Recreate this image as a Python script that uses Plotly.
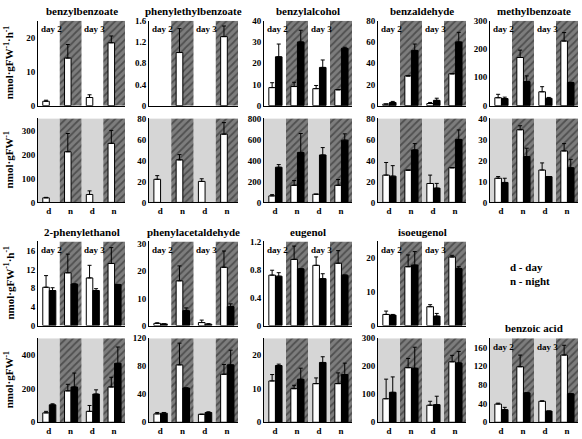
import plotly.graph_objects as go

# ---------------- data ----------------
band_labels = ["d", "n", "d", "n"]
day_tags = ["day 2", "day 3"]

# Row 1: emission rates (nmol·gFW-1·h-1)
benzylbenzoate_rate_w = [1.3, 14.0, 2.4, 18.5]
benzylbenzoate_rate_w_err = [0.3, 4.0, 0.8, 2.0]
phenylethylbenzoate_rate_w = [None, 1.0, None, 1.3]
phenylethylbenzoate_rate_w_err = [0, 0.45, 0, 0.2]
benzylalcohol_rate_w = [8.5, 9.0, 8.0, 7.5]
benzylalcohol_rate_w_err = [2.3, 2.0, 1.5, 0]
benzylalcohol_rate_b = [23, 30, 18, 27]
benzylalcohol_rate_b_err = [6, 5.5, 3.5, 0.5]
benzaldehyde_rate_w = [1.5, 28, 2, 30]
benzaldehyde_rate_w_err = [0, 0, 1, 0]
benzaldehyde_rate_b = [3, 52, 5, 60]
benzaldehyde_rate_b_err = [1, 6, 2, 9]
methylbenzoate_rate_w = [28, 170, 49, 228]
methylbenzoate_rate_w_err = [12, 26, 18, 30]
methylbenzoate_rate_b = [25, 85, 26, 82]
methylbenzoate_rate_b_err = [5, 20, 3, 0]

# Row 2: internal pools (nmol·gFW-1)
benzylbenzoate_pool_w = [19, 211, 33, 246]
benzylbenzoate_pool_w_err = [2, 76, 15, 54]
phenylethylbenzoate_pool_w = [22, 40.5, 20, 65]
phenylethylbenzoate_pool_w_err = [3.5, 5, 2.5, 11]
benzylalcohol_pool_w = [62, 163, 78, 163]
benzylalcohol_pool_w_err = [12, 45, 0, 55]
benzylalcohol_pool_b = [335, 476, 452, 593]
benzylalcohol_pool_b_err = [25, 180, 70, 60]
benzaldehyde_pool_w = [26, 30.7, 18, 33]
benzaldehyde_pool_w_err = [12, 0, 8, 0]
benzaldehyde_pool_b = [25, 50, 13.6, 60]
benzaldehyde_pool_b_err = [10, 6, 4.5, 9]
methylbenzoate_pool_w = [11.5, 34.6, 15.4, 24.5]
methylbenzoate_pool_w_err = [0.8, 1.9, 3.4, 3.5]
methylbenzoate_pool_b = [9.5, 21.8, 12.3, 16.5]
methylbenzoate_pool_b_err = [2, 4, 0, 4]

# Row 3: emission rates
phenylethanol_rate_w = [8.2, 11.3, 10.2, 13.3]
phenylethanol_rate_w_err = [2.5, 4.0, 2.7, 3.4]
phenylethanol_rate_b = [7.5, 8.9, 7.5, 8.8]
phenylethanol_rate_b_err = [0.6, 0, 0.4, 0]
phenylacetaldehyde_rate_w = [0.8, 16.5, 1.1, 21.5]
phenylacetaldehyde_rate_w_err = [0.2, 5.5, 0.9, 6.0]
phenylacetaldehyde_rate_b = [0.6, 5.5, 0.5, 7.0]
phenylacetaldehyde_rate_b_err = [0, 1, 0.2, 1]
eugenol_rate_w = [0.72, 0.945, 0.86, 0.89]
eugenol_rate_w_err = [0.07, 0.19, 0.12, 0.18]
eugenol_rate_b = [0.705, 0.81, 0.67, 0.72]
eugenol_rate_b_err = [0.05, 0, 0.07, 0]
isoeugenol_rate_w = [3.3, 17.5, 5.6, 20.4]
isoeugenol_rate_w_err = [1.0, 3.5, 0.6, 0.5]
isoeugenol_rate_b = [3.1, 18, 2.8, 17]
isoeugenol_rate_b_err = [0.2, 4, 0.8, 0.5]

# Row 4: internal pools
phenylethanol_pool_w = [56, 187, 65, 210]
phenylethanol_pool_w_err = [9, 39, 35, 58]
phenylethanol_pool_b = [104, 210, 168, 351]
phenylethanol_pool_b_err = [6, 83, 25, 97]
phenylacetaldehyde_pool_w = [12, 82, 11.4, 68.6]
phenylacetaldehyde_pool_w_err = [2, 31, 0, 14]
phenylacetaldehyde_pool_b = [13, 49, 14, 82]
phenylacetaldehyde_pool_b_err = [1, 0, 1, 21]
eugenol_pool_w = [12.3, 10, 11.5, 11.5]
eugenol_pool_w_err = [1.9, 1, 1.7, 3.2]
eugenol_pool_b = [16.9, 12.8, 17.8, 14.2]
eugenol_pool_b_err = [0.4, 3.3, 1.7, 3.4]
isoeugenol_pool_w = [84, 195, 61, 216]
isoeugenol_pool_w_err = [70, 33, 14, 23]
isoeugenol_pool_b = [107, 193, 63, 212]
isoeugenol_pool_b_err = [55, 75, 30, 41]
benzoicacid_pool_w = [39, 119, 45, 144]
benzoicacid_pool_w_err = [2, 25, 1, 21]
benzoicacid_pool_b = [27, 63, 24, 61]
benzoicacid_pool_b_err = [5, 0, 0, 0]

# ---------------- layout helpers ----------------
FONT = "Liberation Serif"
W, H = 582, 439
col_px = [(38, 125), (149, 238), (264, 352), (378, 466), (490, 578)]
row_px = [(16, 103), (116, 202), (242, 328), (341, 427)]

panels = [
    dict(r=0, c=0, title="benzylbenzoate", w=benzylbenzoate_rate_w, we=benzylbenzoate_rate_w_err, b=None, be=None, ymax=25, dtick=10),
    dict(r=0, c=1, title="phenylethylbenzoate", w=phenylethylbenzoate_rate_w, we=phenylethylbenzoate_rate_w_err, b=None, be=None, ymax=1.6, dtick=0.4),
    dict(r=0, c=2, title="benzylalcohol", w=benzylalcohol_rate_w, we=benzylalcohol_rate_w_err, b=benzylalcohol_rate_b, be=benzylalcohol_rate_b_err, ymax=40, dtick=10),
    dict(r=0, c=3, title="benzaldehyde", w=benzaldehyde_rate_w, we=benzaldehyde_rate_w_err, b=benzaldehyde_rate_b, be=benzaldehyde_rate_b_err, ymax=80, dtick=20),
    dict(r=0, c=4, title="methylbenzoate", w=methylbenzoate_rate_w, we=methylbenzoate_rate_w_err, b=methylbenzoate_rate_b, be=methylbenzoate_rate_b_err, ymax=300, dtick=100),
    dict(r=1, c=0, title=None, w=benzylbenzoate_pool_w, we=benzylbenzoate_pool_w_err, b=None, be=None, ymax=350, dtick=100),
    dict(r=1, c=1, title=None, w=phenylethylbenzoate_pool_w, we=phenylethylbenzoate_pool_w_err, b=None, be=None, ymax=80, dtick=20),
    dict(r=1, c=2, title=None, w=benzylalcohol_pool_w, we=benzylalcohol_pool_w_err, b=benzylalcohol_pool_b, be=benzylalcohol_pool_b_err, ymax=800, dtick=200),
    dict(r=1, c=3, title=None, w=benzaldehyde_pool_w, we=benzaldehyde_pool_w_err, b=benzaldehyde_pool_b, be=benzaldehyde_pool_b_err, ymax=80, dtick=20),
    dict(r=1, c=4, title=None, w=methylbenzoate_pool_w, we=methylbenzoate_pool_w_err, b=methylbenzoate_pool_b, be=methylbenzoate_pool_b_err, ymax=40, dtick=10),
    dict(r=2, c=0, title="2-phenylethanol", w=phenylethanol_rate_w, we=phenylethanol_rate_w_err, b=phenylethanol_rate_b, be=phenylethanol_rate_b_err, ymax=18, dtick=4),
    dict(r=2, c=1, title="phenylacetaldehyde", w=phenylacetaldehyde_rate_w, we=phenylacetaldehyde_rate_w_err, b=phenylacetaldehyde_rate_b, be=phenylacetaldehyde_rate_b_err, ymax=31, dtick=10),
    dict(r=2, c=2, title="eugenol", w=eugenol_rate_w, we=eugenol_rate_w_err, b=eugenol_rate_b, be=eugenol_rate_b_err, ymax=1.2, dtick=0.4),
    dict(r=2, c=3, title="isoeugenol", w=isoeugenol_rate_w, we=isoeugenol_rate_w_err, b=isoeugenol_rate_b, be=isoeugenol_rate_b_err, ymax=25, dtick=10),
    dict(r=3, c=0, title=None, w=phenylethanol_pool_w, we=phenylethanol_pool_w_err, b=phenylethanol_pool_b, be=phenylethanol_pool_b_err, ymax=500, dtick=200),
    dict(r=3, c=1, title=None, w=phenylacetaldehyde_pool_w, we=phenylacetaldehyde_pool_w_err, b=phenylacetaldehyde_pool_b, be=phenylacetaldehyde_pool_b_err, ymax=120, dtick=40),
    dict(r=3, c=2, title=None, w=eugenol_pool_w, we=eugenol_pool_w_err, b=eugenol_pool_b, be=eugenol_pool_b_err, ymax=25, dtick=10),
    dict(r=3, c=3, title=None, w=isoeugenol_pool_w, we=isoeugenol_pool_w_err, b=isoeugenol_pool_b, be=isoeugenol_pool_b_err, ymax=300, dtick=100),
    dict(r=3, c=4, title="benzoic acid", w=benzoicacid_pool_w, we=benzoicacid_pool_w_err, b=benzoicacid_pool_b, be=benzoicacid_pool_b_err, ymax=180, dtick=40, daytags=True),
]

band_idx = list(range(len(band_labels)))
band_centers = [k + 0.5 for k in band_idx]
day_bands = [k + 0.5 for k in band_idx if band_labels[k] == "d"]
night_bands = [k + 0.5 for k in band_idx if band_labels[k] == "n"]
W_OFF, B_OFF, BW = 0.37, 0.67, 0.3

fig = go.Figure()
annotations = []
tick_font = dict(family=FONT, size=9, color="black", weight="bold")

for i, p in enumerate(panels, start=1):
    xa = "x" if i == 1 else f"x{i}"
    ya = "y" if i == 1 else f"y{i}"
    grey = p["r"] in (1, 3)
    ymax = p["ymax"]
    common = dict(xaxis=xa, yaxis=ya, hoverinfo="skip", showlegend=False)
    # day bands
    fig.add_trace(go.Bar(x=day_bands, y=[ymax] * len(day_bands), width=1,
                         marker=dict(color="#d6d6d6" if grey else "white", line=dict(width=0)), **common))
    # night bands (hatched)
    fig.add_trace(go.Bar(x=night_bands, y=[ymax] * len(night_bands), width=1,
                         marker=dict(color="#7a7a7a", line=dict(width=0),
                                     pattern=dict(shape="/", bgcolor="#7d7d7d", fgcolor="#222222",
                                                  size=5, solidity=0.35)), **common))
    # white bars
    fig.add_trace(go.Bar(x=[k + W_OFF for k in band_idx], y=p["w"], width=BW,
                         marker=dict(color="white", line=dict(color="black", width=1)),
                         error_y=dict(type="data", symmetric=False, array=p["we"],
                                      arrayminus=[0] * 4, color="black", thickness=1, width=2),
                         **common))
    if p["b"] is not None:
        fig.add_trace(go.Bar(x=[k + B_OFF for k in band_idx], y=p["b"], width=BW,
                             marker=dict(color="black", line=dict(color="black", width=1)),
                             error_y=dict(type="data", symmetric=False, array=p["be"],
                                          arrayminus=[0] * 4, color="black", thickness=1, width=2),
                             **common))
    x0, x1 = col_px[p["c"]]
    y0, y1 = row_px[p["r"]]
    show_x = p["r"] in (1, 3)
    fig.layout["xaxis" if i == 1 else f"xaxis{i}"] = dict(
        domain=[x0 / W, x1 / W], range=[0, 4], anchor=ya, showgrid=False, zeroline=False,
        showline=True, linecolor="black", linewidth=1, tickmode="array",
        tickvals=band_centers, ticktext=band_labels,
        showticklabels=show_x, ticks="", tickfont=tick_font, fixedrange=True)
    fig.layout["yaxis" if i == 1 else f"yaxis{i}"] = dict(
        domain=[1 - y1 / H, 1 - y0 / H], range=[0, ymax * 1.0005], anchor=xa, showgrid=False,
        zeroline=False, showline=True, linecolor="black", linewidth=1, tick0=0, dtick=p["dtick"],
        ticks="", tickfont=tick_font, fixedrange=True)
    # titles
    if p["title"]:
        annotations.append(dict(text=p["title"], x=(x0 + x1) / 2 / W, y=1 - (y0 - 10) / H,
                                xref="paper", yref="paper", showarrow=False, xanchor="center",
                                yanchor="middle", font=dict(family=FONT, size=11, color="black", weight="bold")))
    if p["r"] in (0, 2) or p.get("daytags"):
        for tag, xb in zip(day_tags, [k for k in band_idx if band_labels[k] == "d"]):
            annotations.append(dict(text=tag, x=xb + 0.03, y=0.98, xref=xa, yref=f"{ya} domain",
                                    showarrow=False, xanchor="left", yanchor="top",
                                    font=dict(family=FONT, size=9, color="black", weight="bold")))

# y-axis titles
for (y0, y1), txt in zip(row_px, ["nmol·gFW<sup>-1</sup>·h<sup>-1</sup>", "nmol·gFW<sup>-1</sup>",
                                  "nmol·gFW<sup>-1</sup>·h<sup>-1</sup>", "nmol·gFW<sup>-1</sup>"]):
    annotations.append(dict(text=txt, x=9 / W, y=1 - (y0 + y1) / 2 / H, xref="paper", yref="paper",
                            showarrow=False, textangle=-90, xanchor="center", yanchor="middle",
                            font=dict(family=FONT, size=11, color="black", weight="bold")))

# legend text
annotations.append(dict(text="d - day", x=508 / W, y=1 - 268 / H, xref="paper", yref="paper",
                        showarrow=False, xanchor="left", yanchor="middle",
                        font=dict(family=FONT, size=11, color="black", weight="bold")))
annotations.append(dict(text="n - night", x=508 / W, y=1 - 282 / H, xref="paper", yref="paper",
                        showarrow=False, xanchor="left", yanchor="middle",
                        font=dict(family=FONT, size=11, color="black", weight="bold")))

fig.update_layout(width=W, height=H, margin=dict(l=0, r=0, t=0, b=0), barmode="overlay",
                  plot_bgcolor="white", paper_bgcolor="white", annotations=annotations,
                  showlegend=False, font=dict(family=FONT))

fig.write_html("out.html", config={"displayModeBar": False},
               post_script="document.body.style.margin='0';document.body.style.padding='0';document.body.style.overflow='hidden';")
